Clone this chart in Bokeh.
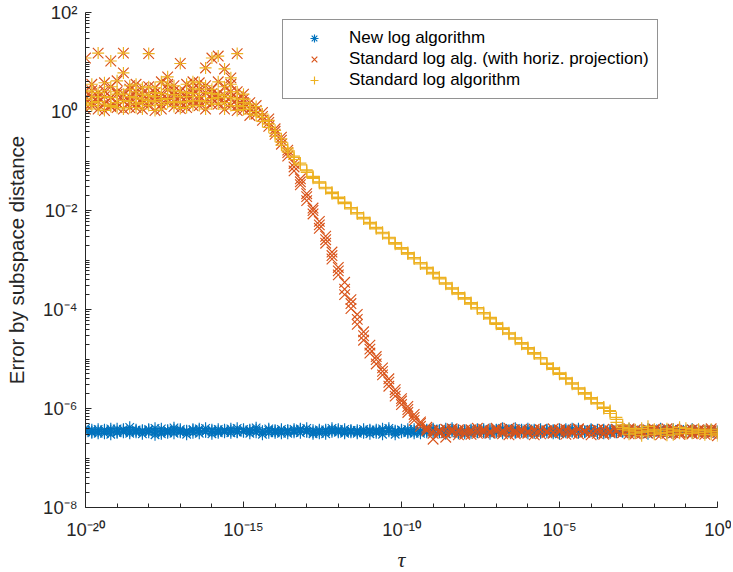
import numpy as np
from bokeh.plotting import figure
from bokeh.models import (Range1d, FixedTicker, CustomJSTickFormatter, Legend,
                          LegendItem, ColumnDataSource)
from bokeh.embed import file_html
from bokeh.resources import INLINE

# ---------------- data (log10 values) ----------------
tau_exp = [-20.0, -19.8, -19.6, -19.4, -19.2, -19.0, -18.8, -18.6, -18.4, -18.2,
           -18.0, -17.8, -17.6, -17.4, -17.2, -17.0, -16.8, -16.6, -16.4, -16.2,
           -16.0, -15.8, -15.6, -15.4, -15.2, -15.0, -14.8, -14.6, -14.4, -14.2,
           -14.0, -13.8, -13.6, -13.4, -13.2, -13.0, -12.8, -12.6, -12.4, -12.2,
           -12.0, -11.8, -11.6, -11.4, -11.2, -11.0, -10.8, -10.6, -10.4, -10.2,
           -10.0, -9.8, -9.6, -9.4, -9.2, -9.0, -8.8, -8.6, -8.4, -8.2,
           -8.0, -7.8, -7.6, -7.4, -7.2, -7.0, -6.8, -6.6, -6.4, -6.2,
           -6.0, -5.8, -5.6, -5.4, -5.2, -5.0, -4.8, -4.6, -4.4, -4.2,
           -4.0, -3.8, -3.6, -3.4, -3.2, -3.0, -2.8, -2.6, -2.4, -2.2,
           -2.0, -1.8, -1.6, -1.4, -1.2, -1.0, -0.8, -0.6, -0.4, -0.2, 0.0]

# New log algorithm (three trials)
new_t1 = [-6.44, -6.47, -6.42, -6.50, -6.45, -6.41, -6.48, -6.46, -6.43, -6.51,
          -6.44, -6.40, -6.47, -6.49, -6.43, -6.45, -6.52, -6.44, -6.41, -6.47,
          -6.46, -6.42, -6.48, -6.45, -6.40, -6.47, -6.50, -6.43, -6.46, -6.44,
          -6.49, -6.42, -6.45, -6.48, -6.41, -6.46, -6.44, -6.50, -6.43, -6.47,
          -6.45, -6.42, -6.48, -6.44, -6.46, -6.51, -6.43, -6.45, -6.40, -6.47,
          -6.44, -6.49, -6.42, -6.46, -6.45, -6.43, -6.48, -6.41, -6.46, -6.44,
          -6.50, -6.43, -6.47, -6.45, -6.42, -6.48, -6.44, -6.46, -6.40, -6.47,
          -6.45, -6.43, -6.49, -6.44, -6.46, -6.42, -6.48, -6.45, -6.41, -6.47,
          -6.44, -6.50, -6.43, -6.46, -6.45, -6.42, -6.48, -6.44, -6.47, -6.43,
          -6.46, -6.41, -6.49, -6.45, -6.44, -6.47, -6.42, -6.48, -6.45, -6.46, -6.50]
new_t2 = [-6.40, -6.49, -6.46, -6.43, -6.52, -6.47, -6.42, -6.50, -6.45, -6.44,
          -6.48, -6.53, -6.41, -6.46, -6.50, -6.42, -6.47, -6.49, -6.44, -6.40,
          -6.51, -6.46, -6.43, -6.49, -6.47, -6.42, -6.45, -6.48, -6.52, -6.41,
          -6.46, -6.50, -6.44, -6.42, -6.49, -6.47, -6.51, -6.43, -6.46, -6.40,
          -6.48, -6.50, -6.44, -6.47, -6.42, -6.45, -6.49, -6.41, -6.46, -6.52,
          -6.43, -6.47, -6.50, -6.44, -6.48, -6.41, -6.45, -6.51, -6.43, -6.47,
          -6.46, -6.49, -6.42, -6.48, -6.51, -6.44, -6.40, -6.47, -6.49, -6.43,
          -6.50, -6.46, -6.42, -6.48, -6.44, -6.51, -6.45, -6.41, -6.49, -6.46,
          -6.42, -6.47, -6.50, -6.44, -6.48, -6.46, -6.41, -6.49, -6.43, -6.51,
          -6.45, -6.48, -6.44, -6.50, -6.42, -6.46, -6.49, -6.43, -6.47, -6.44, -6.48]
new_t3 = [-6.47, -6.43, -6.50, -6.46, -6.41, -6.49, -6.45, -6.38, -6.48, -6.46,
          -6.42, -6.47, -6.51, -6.44, -6.39, -6.48, -6.45, -6.42, -6.50, -6.46,
          -6.43, -6.49, -6.45, -6.41, -6.48, -6.46, -6.43, -6.39, -6.47, -6.49,
          -6.44, -6.46, -6.50, -6.45, -6.43, -6.40, -6.48, -6.46, -6.51, -6.44,
          -6.42, -6.47, -6.45, -6.50, -6.49, -6.43, -6.46, -6.52, -6.44, -6.45,
          -6.48, -6.42, -6.46, -6.50, -6.43, -6.49, -6.44, -6.47, -6.40, -6.50,
          -6.44, -6.45, -6.48, -6.42, -6.46, -6.43, -6.50, -6.44, -6.47, -6.45,
          -6.41, -6.49, -6.46, -6.43, -6.50, -6.45, -6.42, -6.47, -6.44, -6.48,
          -6.46, -6.43, -6.45, -6.49, -6.41, -6.47, -6.44, -6.46, -6.50, -6.42,
          -6.47, -6.44, -6.46, -6.42, -6.48, -6.45, -6.43, -6.47, -6.49, -6.44, -6.46]

# Both standard algorithms agree for tau <= 1e-15 (26 samples, five trials)
pre_t1 = [1.08, 0.30, 1.18, 0.15, 1.02, 0.35, 1.18, 0.08, 0.40, 0.25, 1.17, 0.48, 0.60,
          0.70, 0.52, 0.97, 0.30, 0.46, 0.58, 0.88, 1.08, 1.12, 0.86, 0.68, 1.17, 0.25]
pre_t2 = [0.25, 0.55, 0.20, 0.42, 0.28, 0.62, 0.78, 0.45, 0.15, 0.05, 0.32, 0.20, 0.36,
          0.26, 0.10, 0.40, 0.55, 0.22, 0.12, 0.38, 0.26, 0.60, 0.32, 0.28, 0.40, 0.10]
pre_t3 = [0.05, 0.12, 0.38, 0.02, 0.10, 0.18, 0.22, 0.30, 0.55, 0.35, 0.12, 0.02, 0.14,
          0.44, 0.34, 0.18, 0.08, 0.36, 0.30, 0.20, 0.45, 0.15, 0.05, 0.12, 0.02, 0.35]
pre_t4 = [0.40, 0.18, 0.05, 0.30, 0.50, 0.08, 0.35, 0.20, 0.28, 0.48, 0.22, 0.38, 0.05,
          0.18, 0.42, 0.30, 0.20, 0.60, 0.45, 0.05, 0.15, 0.35, 0.50, 0.40, 0.25, 0.18]
pre_t5 = [0.15, 0.42, 0.30, 0.58, 0.12, 0.40, 0.05, 0.52, 0.08, 0.18, 0.50, 0.30, 0.24,
          0.55, 0.20, 0.06, 0.38, 0.12, 0.22, 0.52, 0.36, 0.28, 0.18, 0.55, 0.12, 0.04]

# Standard log alg. (with horiz. projection): descent (29) + floor (46)
horiz_desc_t1 = [0.05, 0.02, -0.10, -0.22, -0.40, -0.58, -0.83, -1.12, -1.42, -1.72,
                 -2.00, -2.29, -2.59, -2.91, -3.22, -3.59, -3.88, -4.20, -4.53, -4.80,
                 -5.01, -5.25, -5.47, -5.68, -5.85, -6.02, -6.18, -6.30, -6.38]
horiz_desc_t2 = [0.18, -0.05, -0.02, -0.30, -0.35, -0.66, -0.78, -1.20, -1.36, -1.80,
                 -1.95, -2.36, -2.52, -2.98, -3.15, -3.70, -3.80, -4.30, -4.45, -4.88,
                 -4.95, -5.32, -5.40, -5.75, -5.80, -6.08, -6.12, -6.36, -6.42]
horiz_desc_t3 = [-0.08, 0.12, -0.18, -0.15, -0.46, -0.52, -0.90, -1.05, -1.48, -1.66,
                 -2.07, -2.22, -2.66, -2.84, -3.30, -3.45, -3.98, -4.10, -4.62, -4.72,
                 -5.10, -5.18, -5.55, -5.62, -5.92, -5.96, -6.24, -6.27, -6.45]
horiz_floor_t1 = [-6.45, -6.50, -6.42, -6.48, -6.53, -6.44, -6.47, -6.40, -6.49, -6.46,
                  -6.43, -6.51, -6.45, -6.48, -6.42, -6.50, -6.46, -6.44, -6.49, -6.41,
                  -6.47, -6.52, -6.45, -6.43, -6.48, -6.46, -6.50, -6.42, -6.47, -6.45,
                  -6.49, -6.44, -6.51, -6.46, -6.43, -6.48, -6.45, -6.50, -6.42, -6.47,
                  -6.44, -6.49, -6.46, -6.52, -6.45, -6.48]
horiz_floor_t2 = [-6.62, -6.44, -6.49, -6.41, -6.47, -6.52, -6.43, -6.50, -6.45, -6.48,
                  -6.40, -6.47, -6.53, -6.44, -6.49, -6.46, -6.42, -6.51, -6.45, -6.48,
                  -6.43, -6.46, -6.50, -6.41, -6.47, -6.53, -6.44, -6.49, -6.45, -6.42,
                  -6.48, -6.51, -6.43, -6.47, -6.50, -6.44, -6.46, -6.41, -6.49, -6.52,
                  -6.45, -6.43, -6.50, -6.47, -6.41, -6.55]
horiz_floor_t3 = [-6.50, -6.47, -6.58, -6.45, -6.43, -6.49, -6.52, -6.46, -6.42, -6.50,
                  -6.47, -6.44, -6.40, -6.51, -6.46, -6.48, -6.53, -6.43, -6.47, -6.50,
                  -6.45, -6.42, -6.48, -6.51, -6.44, -6.46, -6.43, -6.52, -6.49, -6.47,
                  -6.44, -6.41, -6.48, -6.50, -6.45, -6.42, -6.53, -6.46, -6.44, -6.49,
                  -6.47, -6.51, -6.43, -6.45, -6.50, -6.44]

# Standard log algorithm: descent (60) + floor (15)
std_desc_t1 = [0.05, 0.00, -0.12, -0.25, -0.44, -0.62, -0.78, -0.93, -1.06, -1.20,
               -1.33, -1.43, -1.54, -1.64, -1.74, -1.84, -1.95, -2.05, -2.15, -2.25,
               -2.35, -2.45, -2.55, -2.66, -2.76, -2.86, -2.96, -3.06, -3.16, -3.26,
               -3.36, -3.47, -3.57, -3.67, -3.77, -3.87, -3.97, -4.07, -4.17, -4.28,
               -4.38, -4.48, -4.58, -4.68, -4.78, -4.88, -4.98, -5.09, -5.19, -5.29,
               -5.39, -5.49, -5.59, -5.69, -5.79, -5.89, -5.98, -6.06, -6.22, -6.38]
std_desc_t2 = [0.15, -0.08, -0.05, -0.32, -0.38, -0.68, -0.74, -0.97, -1.08, -1.23,
               -1.35, -1.45, -1.56, -1.66, -1.76, -1.86, -1.97, -2.07, -2.17, -2.27,
               -2.37, -2.47, -2.57, -2.68, -2.78, -2.88, -2.98, -3.08, -3.18, -3.28,
               -3.38, -3.49, -3.59, -3.69, -3.79, -3.89, -3.99, -4.09, -4.19, -4.30,
               -4.40, -4.50, -4.60, -4.70, -4.80, -4.90, -5.00, -5.11, -5.21, -5.31,
               -5.41, -5.51, -5.61, -5.71, -5.81, -5.91, -6.00, -6.10, -6.28, -6.42]
std_desc_t3 = [-0.05, 0.10, -0.20, -0.18, -0.50, -0.55, -0.82, -0.90, -1.04, -1.18,
               -1.31, -1.42, -1.53, -1.63, -1.73, -1.83, -1.94, -2.04, -2.14, -2.24,
               -2.34, -2.44, -2.54, -2.65, -2.75, -2.85, -2.95, -3.05, -3.15, -3.25,
               -3.35, -3.46, -3.56, -3.66, -3.76, -3.86, -3.96, -4.06, -4.16, -4.27,
               -4.37, -4.47, -4.57, -4.67, -4.77, -4.87, -4.97, -5.08, -5.18, -5.28,
               -5.38, -5.48, -5.58, -5.68, -5.78, -5.88, -5.97, -6.04, -6.18, -6.33]
std_floor_t1 = [-6.45, -6.50, -6.40, -6.47, -6.52, -6.44, -6.48, -6.42, -6.50, -6.46,
                -6.43, -6.49, -6.45, -6.52, -6.47]
std_floor_t2 = [-6.52, -6.43, -6.48, -6.36, -6.46, -6.50, -6.41, -6.53, -6.45, -6.40,
                -6.50, -6.44, -6.48, -6.42, -6.55]
std_floor_t3 = [-6.40, -6.47, -6.55, -6.44, -6.42, -6.49, -6.54, -6.46, -6.38, -6.51,
                -6.47, -6.42, -6.53, -6.46, -6.50]

series_names = ["New log algorithm",
                "Standard log alg. (with horiz. projection)",
                "Standard log algorithm"]
colors = ["#0072BD", "#D95319", "#EDB120"]
markers = ["asterisk", "x", "cross"]
marker_sizes = [12, 15, 12]

tau_pre = tau_exp[:26]
new_trials = [(tau_exp, new_t1), (tau_exp, new_t2), (tau_exp, new_t3)]
horiz_trials = [(tau_exp, pre_t1 + horiz_desc_t1 + horiz_floor_t1),
                (tau_exp, pre_t2 + horiz_desc_t2 + horiz_floor_t2),
                (tau_exp, pre_t3 + horiz_desc_t3 + horiz_floor_t3),
                (tau_pre, pre_t4), (tau_pre, pre_t5)]
std_trials = [(tau_exp, pre_t1 + std_desc_t1 + std_floor_t1),
              (tau_exp, pre_t2 + std_desc_t2 + std_floor_t2),
              (tau_exp, pre_t3 + std_desc_t3 + std_floor_t3),
              (tau_pre, pre_t4), (tau_pre, pre_t5)]


def make_source(trials):
    xs, ys = [], []
    for tx, ty in trials:
        xs.extend(10.0 ** np.array(tx))
        ys.extend(10.0 ** np.array(ty))
    return ColumnDataSource(dict(x=xs, y=ys))


# ---------------- figure ----------------
p = figure(frame_width=632, frame_height=495, x_axis_type="log", y_axis_type="log",
           x_range=Range1d(1e-20, 1.0), y_range=Range1d(1e-8, 1e2),
           output_backend="svg", toolbar_location=None,
           min_border_left=85, min_border_right=14,
           min_border_top=12, min_border_bottom=62)
p.background_fill_color = "white"
p.border_fill_color = "white"
p.outline_line_color = None
p.grid.visible = False

renderers = []
for trials, name, col, mk, sz in zip([new_trials, horiz_trials, std_trials],
                                     series_names, colors, markers, marker_sizes):
    r = p.scatter("x", "y", source=make_source(trials), marker=mk, size=sz,
                  line_color=col, fill_color=None, line_width=1.15)
    renderers.append(r)

fmt = CustomJSTickFormatter(code="""
const sup = {"-":"\u207B","0":"\u2070","1":"\u00B9","2":"\u00B2","3":"\u00B3",
             "4":"\u2074","5":"\u2075","6":"\u2076","7":"\u2077","8":"\u2078","9":"\u2079"};
const e = Math.round(Math.log10(tick));
return "10" + String(e).split("").map(c => sup[c]).join("");
""")

p.xaxis.ticker = FixedTicker(ticks=[1e-20, 1e-15, 1e-10, 1e-5, 1.0],
                             minor_ticks=[10.0 ** k for k in range(-19, 0) if k % 5 != 0])
p.yaxis.ticker = FixedTicker(ticks=[1e-8, 1e-6, 1e-4, 1e-2, 1.0, 1e2],
                             minor_ticks=[m * 10.0 ** k for k in range(-8, 2) for m in range(1, 10)
                                          if not (m == 1 and k % 2 == 0)])

for ax in (p.xaxis[0], p.yaxis[0]):
    ax.formatter = fmt
    ax.axis_line_color = "#262626"
    ax.axis_line_width = 1
    ax.major_tick_line_color = "#262626"
    ax.minor_tick_line_color = "#262626"
    ax.major_tick_in = 6
    ax.major_tick_out = 0
    ax.minor_tick_in = 4
    ax.minor_tick_out = 0
    ax.major_label_text_font = "Liberation Sans"
    ax.major_label_text_font_size = "18.5px"
    ax.major_label_text_color = "#262626"
    ax.major_label_text_line_height = 1.0
    ax.axis_label_text_color = "#262626"
    ax.axis_label_text_line_height = 1.0

p.xaxis.major_label_standoff = 11
p.yaxis.major_label_standoff = 8
p.xaxis.axis_label = "τ"
p.xaxis.axis_label_text_font = "Liberation Serif"
p.xaxis.axis_label_text_font_style = "italic"
p.xaxis.axis_label_text_font_size = "22px"
p.xaxis.axis_label_standoff = 4
p.yaxis.axis_label = "Error by subspace distance"
p.yaxis.axis_label_text_font = "Liberation Sans"
p.yaxis.axis_label_text_font_style = "normal"
p.yaxis.axis_label_text_font_size = "20.5px"
p.yaxis.axis_label_standoff = 12

legend = Legend(items=[LegendItem(label=n, renderers=[r]) for n, r in zip(series_names, renderers)],
                location=(197, 408))
legend.border_line_color = "#262626"
legend.border_line_width = 1
legend.background_fill_color = "white"
legend.background_fill_alpha = 1.0
legend.label_text_font = "Liberation Sans"
legend.label_text_font_size = "17px"
legend.label_text_color = "#000000"
legend.glyph_width = 46
legend.glyph_height = 20
legend.label_height = 20
legend.label_standoff = 12
legend.padding = 8
legend.spacing = 1
legend.margin = 0
p.add_layout(legend)

open("out.html", "w").write(file_html(p, INLINE))
